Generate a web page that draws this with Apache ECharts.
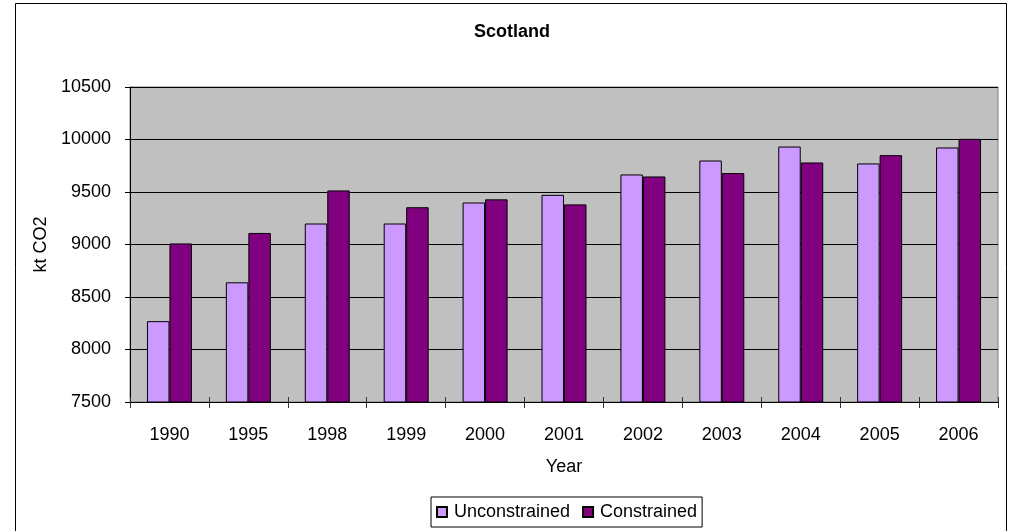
<!DOCTYPE html>
<html>
<head>
<meta charset="utf-8">
<script src="https://cdn.jsdelivr.net/npm/echarts@6/dist/echarts.min.js"></script>
<style>
html,body{margin:0;padding:0;background:#fff;}
#c{width:1011px;height:531px;}
</style>
</head>
<body>
<div id="c"></div>
<script>
var years = ['1990','1995','1998','1999','2000','2001','2002','2003','2004','2005','2006'];
var unconstrained = [8270, 8640, 9200, 9200, 9400, 9473, 9667, 9800, 9933, 9772, 9924];
var constrained = [9010, 9110, 9515, 9355, 9430, 9382, 9648, 9680, 9781, 9851, 10006];
var yTicks = {min: 7500, max: 10500, step: 500};

var FONT = '"Liberation Sans", Arial, sans-serif';
var chart = echarts.init(document.getElementById('c'), null, {renderer: 'canvas'});
chart.setOption({
  animation: false,
  backgroundColor: '#ffffff',
  textStyle: {fontFamily: FONT},
  title: {
    text: 'Scotland',
    left: 474, top: 23, padding: 0,
    textStyle: {fontFamily: FONT, fontSize: 18, fontWeight: 'bold', color: '#000'}
  },
  graphic: [{
    type: 'rect', silent: true, z: -1,
    shape: {x: 15.5, y: 3.5, width: 991, height: 540},
    style: {fill: 'none', stroke: '#000', lineWidth: 1}
  }],
  legend: {
    left: 431, top: 497,
    padding: [6, 5, 6, 5],
    itemWidth: 10, itemHeight: 10, itemGap: 12,
    borderColor: '#000', borderWidth: 1,
    icon: 'rect',
    textStyle: {fontFamily: FONT, fontSize: 18, color: '#000', padding: [0, 0, 0, 2]},
    data: ['Unconstrained', 'Constrained']
  },
  grid: {
    left: 130, top: 87, right: 13, bottom: 129,
    show: true, backgroundColor: '#C0C0C0', borderColor: '#808080', borderWidth: 1
  },
  xAxis: [{
    type: 'category', data: years,
    name: 'Year', nameLocation: 'middle', nameGap: 56,
    nameTextStyle: {fontFamily: FONT, fontSize: 18, color: '#000'},
    axisLine: {lineStyle: {color: '#000', width: 1}},
    axisTick: {show: true, length: 6, alignWithLabel: false, lineStyle: {color: '#333'}},
    axisLabel: {fontFamily: FONT, fontSize: 18, color: '#000', margin: 24},
    splitLine: {show: false}
  }, {
    type: 'category', data: years, position: 'bottom',
    axisLine: {show: false},
    axisTick: {show: true, inside: true, length: 5, lineStyle: {color: '#333'}},
    axisLabel: {show: false},
    splitLine: {show: false}
  }],
  yAxis: {
    type: 'value', min: yTicks.min, max: yTicks.max, interval: yTicks.step,
    name: 'kt CO2', nameLocation: 'middle', nameGap: 74, nameRotate: 90,
    nameTextStyle: {fontFamily: FONT, fontSize: 18, color: '#000'},
    axisLine: {show: true, lineStyle: {color: '#000', width: 1}},
    axisTick: {show: true, length: 5, lineStyle: {color: '#000'}},
    axisLabel: {fontFamily: FONT, fontSize: 18, color: '#000', margin: 19,
      formatter: function (v) { return String(v); }},
    splitLine: {show: true, lineStyle: {color: '#000', width: 1}}
  },
  series: [{
    name: 'Unconstrained', type: 'bar', data: unconstrained,
    barGap: '0%', barCategoryGap: '43%',
    itemStyle: {color: '#CC99FF', borderColor: '#000', borderWidth: 1}
  }, {
    name: 'Constrained', type: 'bar', data: constrained,
    barGap: '0%', barCategoryGap: '43%',
    itemStyle: {color: '#800080', borderColor: '#000', borderWidth: 1}
  }]
});
</script>
</body>
</html>
